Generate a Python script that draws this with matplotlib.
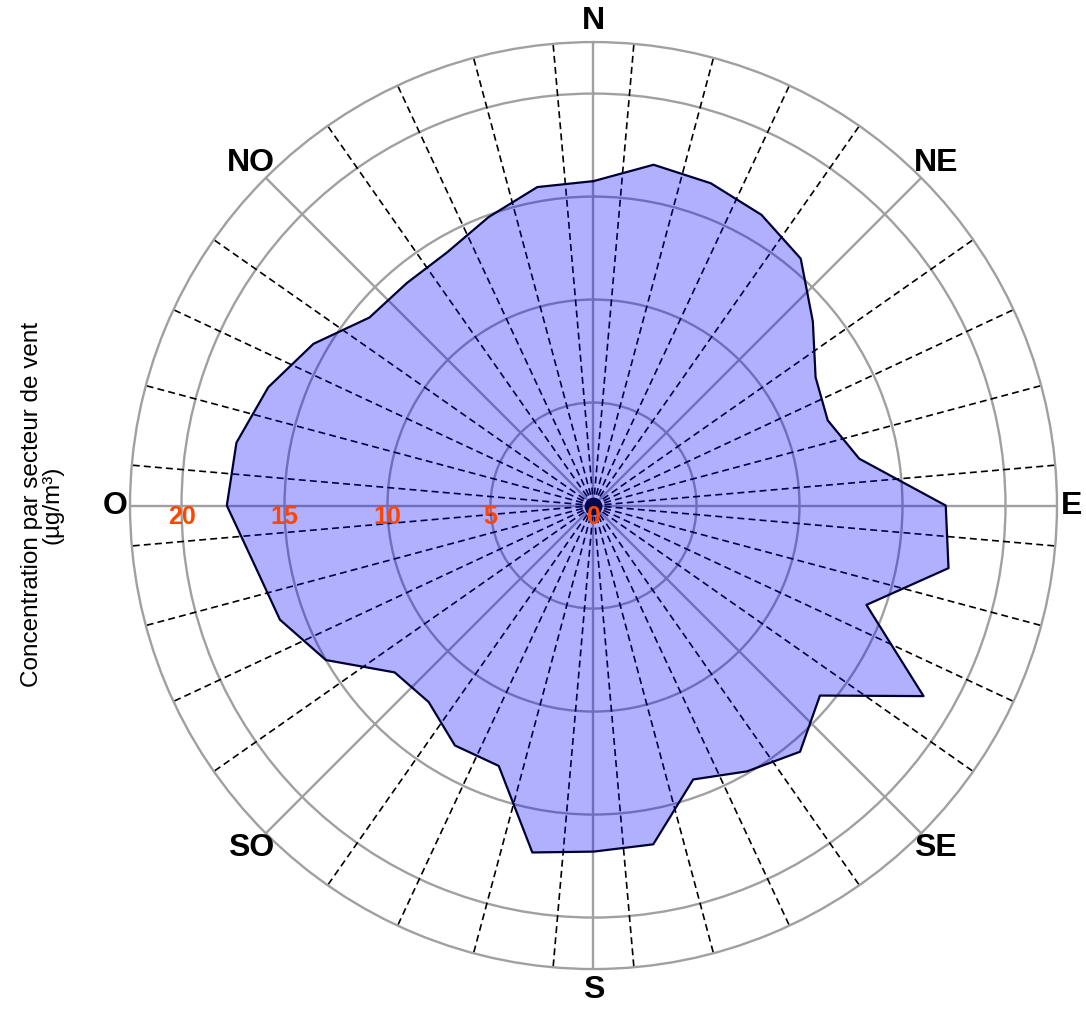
import numpy as np
import matplotlib
matplotlib.use("Agg")
import matplotlib.pyplot as plt

plt.rcParams['font.family'] = ['Liberation Sans', 'DejaVu Sans']
plt.rcParams['lines.scale_dashes'] = False

# concentration per 10 degree wind sector (µg/m3)
directions = [0, 10, 20, 30, 40, 50, 60, 70, 80, 90, 100, 110,
              120, 130, 140, 150, 160, 170, 180, 190, 200, 210, 220, 230,
              240, 250, 260, 270, 280, 290, 300, 310, 320, 330, 340, 350]
concentration = [15.75, 16.8, 16.65, 16.3, 15.65, 13.9, 12.45, 12.1, 13.1, 17.1, 17.5, 14.1,
                 18.5, 14.35, 15.6, 14.9, 14.15, 16.7, 16.8, 17.1, 13.45, 13.45, 12.45, 12.6,
                 15.0, 16.2, 16.7, 17.8, 17.6, 16.8, 15.7, 14.2, 14.1, 14.2, 14.9, 15.7]

compass_labels = ["N", "NE", "E", "SE", "S", "SO", "O", "NO"]
compass_deg = [0, 45, 90, 135, 180, 225, 270, 315]
radial_ticks = [0, 5, 10, 15, 20]
rmax = 22.5

grey = '#a0a0a0'

fig = plt.figure(figsize=(10.86, 10.09), dpi=100)
ax = fig.add_axes([0.1197, 0.0396, 0.8536, 0.9187], projection='polar')
ax.set_theta_zero_location('N')
ax.set_theta_direction(-1)
ax.set_ylim(0, rmax)

ax.set_xticks(np.deg2rad(compass_deg))
ax.set_xticklabels([])
ax.set_yticks([5, 10, 15, 20])
ax.set_yticklabels([])
ax.tick_params(length=0)
ax.grid(True, color=grey, lw=1.7)
ax.set_axisbelow(True)
ax.spines['polar'].set_color(grey)
ax.spines['polar'].set_linewidth(1.7)

# sector boundaries (skip the ones lying on the compass lines)
edges = [e for e in range(5, 360, 10) if e % 45 != 0]
ax.vlines(np.deg2rad(edges), 0, rmax, colors='black', linestyles=[(0, (5, 3))], lw=1.2, zorder=1)

theta = np.deg2rad(directions + [directions[0]])
vals = concentration + [concentration[0]]
ax.fill(theta, vals, facecolor=(0, 0, 1, 0.31), edgecolor='none', zorder=2)
ax.plot(theta, vals, color='#000033', lw=1.6, zorder=3)
ax.scatter([0], [0], s=140, color='#05054a', zorder=4)

for lab, d in zip(compass_labels, compass_deg):
    rr = 23.2 if d in (90, 270) else 23.5
    ax.text(np.deg2rad(d), rr, lab, ha='center', va='center',
            fontsize=23, fontweight='bold', clip_on=False)

for r in radial_ticks:
    ax.annotate(str(r), (np.deg2rad(270), r), xytext=(0, -11), textcoords='offset pixels',
                ha='center', va='center', color='#ff4500', fontsize=18,
                fontweight='bold', zorder=5)

fig.text(0.039, 0.5, "Concentration par secteur de vent\n(µg/m³)", rotation=90,
         ha='center', va='center', multialignment='center', fontsize=17.5, linespacing=0.9)

fig.savefig("out.png", dpi=100)
